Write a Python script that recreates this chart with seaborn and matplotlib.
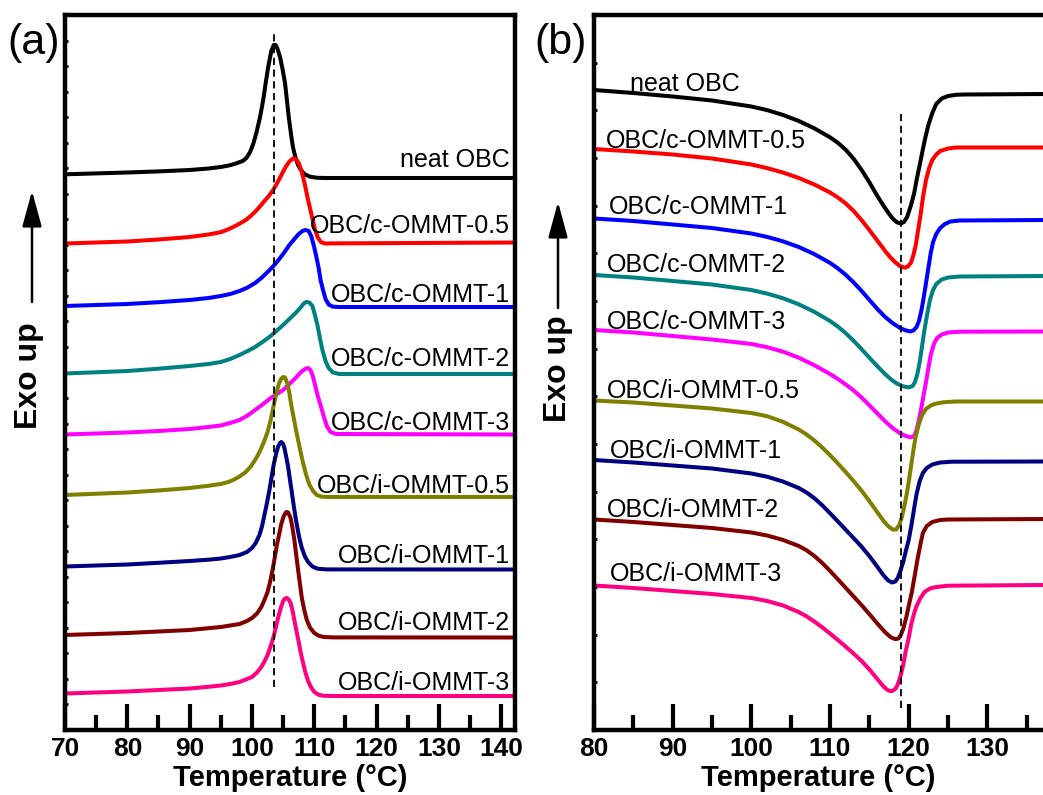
import numpy as np
import pandas as pd
import matplotlib
matplotlib.use("Agg")
import matplotlib.pyplot as plt
from matplotlib.patches import FancyArrowPatch
from matplotlib.ticker import MultipleLocator
import seaborn as sns

# ---------------- data ----------------
samples = ["neat OBC", "OBC/c-OMMT-0.5", "OBC/c-OMMT-1", "OBC/c-OMMT-2", "OBC/c-OMMT-3",
           "OBC/i-OMMT-0.5", "OBC/i-OMMT-1", "OBC/i-OMMT-2", "OBC/i-OMMT-3"]
colors = ["#000000", "#FF0000", "#0000FF", "#008080", "#FF00FF",
          "#808000", "#000080", "#800000", "#FF0080"]

# (a) cooling scans: temperature (C) and vertically shifted heat flow (a.u.)
cool_T_neat = [70, 80, 85, 90, 93, 95, 96.5, 97.5, 98.5, 99.1, 99.7, 100.2, 100.7, 101.3, 101.8, 102.2, 102.6, 103.1, 103.5, 103.8, 104.1, 104.5, 104.9, 105.3, 105.9, 106.3, 106.6, 107, 107.4, 107.8, 108.4, 109.3, 110.5, 112, 142.5]
cool_neat = [555.7, 557.5, 558.6, 560, 561.5, 563, 564.8, 566.7, 569, 572, 578, 586, 597, 613, 630, 647, 663, 679, 685, 685, 681, 673, 661, 647, 613, 594, 582, 572, 565, 560.5, 556, 553.3, 552.2, 552, 552]
cool_T_c05 = [70, 80, 85, 90, 93, 95, 96, 97, 98, 99, 99.8, 100.7, 101.4, 102, 102.7, 103.4, 104, 104.6, 105, 105.5, 106, 106.6, 107.1, 107.5, 107.9, 108.2, 108.5, 109, 109.6, 110.1, 110.6, 111.1, 111.7, 112.5, 142.5]
cool_c05 = [486.5, 488.5, 490.5, 493, 495.5, 497.8, 500.2, 503, 506.3, 510, 514, 519.5, 524.5, 529, 534, 540, 546.5, 553.5, 558.5, 564, 568.5, 571.7, 570.5, 567, 560, 553, 545, 530, 514, 500.5, 492, 487.8, 486.5, 486.6, 487.5]
cool_T_c1 = [70, 80, 85, 90, 93, 95, 96.5, 98, 99.3, 100.5, 101.5, 102.5, 103.3, 104, 105, 106, 106.8, 107.5, 108.1, 108.6, 109.1, 109.5, 109.9, 110.3, 110.7, 111, 111.4, 111.8, 112.3, 113, 114, 142.5]
cool_c1 = [424, 426, 427.8, 430, 432, 434, 436, 439, 442.5, 447, 452, 458, 463, 468, 476, 485, 491, 496, 499, 500, 499, 494, 485, 474, 462, 450, 440, 431, 425.5, 423.3, 423, 423]
cool_T_c2 = [70, 80, 85, 90, 93, 95, 96.5, 98, 99.3, 100.5, 101.8, 103, 104, 105, 106, 107, 107.8, 108.3, 108.7, 109.2, 109.7, 110.1, 110.5, 110.9, 111.3, 111.8, 112.3, 113, 114, 142.5]
cool_c2 = [356.5, 359, 361.3, 364, 366, 368, 371, 375, 379, 383, 388.5, 394, 399.5, 405, 411, 417, 422.5, 426.5, 428, 427.5, 424, 415, 405, 392, 380, 369, 362, 357.5, 356, 356]
cool_T_c3 = [70, 80, 85, 90, 93, 95, 96.5, 98, 99.3, 100.5, 101.8, 103, 104, 105, 106, 107, 107.8, 108.5, 109, 109.4, 109.8, 110.2, 110.6, 111, 111.5, 112, 112.6, 113.5, 142.5]
cool_c3 = [295.5, 297.5, 299, 301, 303, 304.5, 307, 310, 314.5, 320, 326, 332, 336, 340, 346, 352, 357.5, 361, 362, 360, 353, 343, 333, 325, 314, 304, 298, 296, 295.5]
cool_T_i05 = [70, 80, 85, 90, 93, 95, 96.2, 97, 98, 99, 99.8, 100.5, 101, 101.5, 102, 102.5, 103, 103.5, 103.9, 104.3, 104.7, 105, 105.3, 105.7, 106, 106.3, 106.7, 107, 107.4, 107.8, 108.2, 108.7, 109.2, 109.8, 110.4, 111.2, 112.5, 142.5]
cool_i05 = [235, 237.5, 239.5, 242, 244.2, 246, 248, 250, 253.5, 258, 263.5, 270, 275.5, 282, 289.5, 298, 310, 325, 336.5, 346, 351.5, 353, 352.5, 346, 337, 325, 312, 302, 290, 278, 267, 255, 245.5, 239, 235, 233.3, 233, 233]
cool_T_i1 = [70, 80, 85, 90, 93, 95, 96.5, 98, 99.2, 100, 100.6, 101.2, 101.6, 102, 102.4, 102.8, 103.2, 103.5, 103.9, 104.2, 104.5, 104.7, 105, 105.2, 105.5, 105.8, 106.1, 106.5, 106.8, 107.2, 107.6, 108, 108.5, 109, 109.7, 110.5, 112, 142.5]
cool_i1 = [163.5, 165.5, 167.2, 169, 170.3, 171.5, 173, 175, 178, 182, 187, 195, 203.5, 215, 227, 240, 255, 266, 277, 283.5, 287, 288, 286, 282, 273, 263, 250, 233, 220, 205, 192, 182, 173.5, 168, 163.5, 161.3, 160.6, 160.5]
cool_T_i2 = [70, 80, 85, 90, 93, 95, 96.5, 98, 99.2, 100, 100.8, 101.5, 102, 102.5, 102.9, 103.3, 103.7, 104, 104.4, 104.7, 105.1, 105.5, 105.8, 106.2, 106.5, 106.8, 107.1, 107.4, 107.7, 108, 108.4, 108.8, 109.3, 110, 110.7, 111.5, 113, 142.5]
cool_i2 = [95, 97, 98.5, 100, 101.8, 103, 104.5, 106, 109, 112, 116.5, 123, 130, 138, 148, 160, 174, 185, 197, 206, 214, 218, 217.5, 212, 202, 190, 175, 160, 146, 132, 119.5, 110, 102.5, 97, 94.3, 93, 92.6, 92.5]
cool_T_i3 = [70, 80, 85, 90, 93, 95, 96.5, 98, 99.2, 100, 100.8, 101.5, 102, 102.5, 103, 103.5, 103.9, 104.3, 104.7, 105, 105.3, 105.6, 105.9, 106.2, 106.5, 106.8, 107.1, 107.5, 107.8, 108.2, 108.6, 109, 109.5, 110, 110.7, 111.5, 113, 142.5]
cool_i3 = [36.5, 38.5, 40, 41.5, 43.2, 44.5, 46, 48, 51, 53, 57.5, 63, 68.5, 75, 84, 94, 104.5, 115, 123.5, 129, 131.5, 132, 130.5, 127, 119.5, 110, 100, 88, 78, 67, 57, 49, 42.5, 38, 35.2, 34.2, 34, 34]

# (b) heating scans
heat_T_neat = [80, 85, 90, 95, 100, 102, 104, 106, 108, 110, 111, 112, 113, 114, 115, 116, 116.8, 117.5, 118, 118.5, 119, 119.4, 119.8, 120.3, 120.7, 121, 121.4, 121.7, 122.1, 122.5, 123, 123.5, 124.2, 125, 126, 127, 137.5]
heat_neat = [640, 637, 633.5, 629.5, 623.5, 619.9, 615.1, 609.1, 601.7, 592.7, 587.2, 580.2, 571.2, 560.2, 547.7, 534.2, 524.2, 516.2, 511.2, 507.7, 506.5, 508, 513, 525, 537, 550, 565, 577, 592, 605, 617, 626, 631.5, 634, 635.2, 635.5, 636]
heat_T_c05 = [80, 85, 90, 95, 100, 102, 104, 106, 108, 110, 111, 112, 113, 114, 115, 116, 117, 117.7, 118.3, 118.9, 119.5, 119.9, 120.3, 120.6, 120.9, 121.2, 121.5, 121.8, 122.2, 122.6, 123, 123.5, 124, 125, 126, 137.5]
heat_c05 = [581, 578.5, 575.5, 571.5, 565.5, 561.9, 557.5, 552.1, 545.5, 537.5, 532.5, 526.5, 519, 510, 500, 489.5, 479, 472.4, 467.6, 464, 462.3, 463.5, 467.5, 475, 485, 500, 515, 532, 550, 562, 570, 575.5, 579, 581.5, 582.5, 582.5]
heat_T_c1 = [80, 85, 90, 95, 100, 102, 104, 106, 108, 110, 111, 112, 113, 114, 115, 116, 117, 118, 119, 119.7, 120.2, 120.6, 121, 121.3, 121.6, 121.9, 122.2, 122.5, 122.8, 123.1, 123.5, 124, 124.6, 125.3, 126.5, 137.5]
heat_c1 = [511.5, 509, 505.5, 502, 496.5, 493.1, 488.7, 483.1, 475.9, 467.1, 461.6, 455.1, 447.6, 439.1, 430.1, 421.1, 413.1, 406.6, 401.6, 399.4, 398.6, 399.5, 403, 409, 419, 432, 447, 462, 477, 488, 496, 502, 506, 508.5, 509.5, 510]
heat_T_c2 = [80, 85, 90, 95, 100, 102, 104, 106, 108, 110, 111, 112, 113, 114, 115, 116, 117, 117.8, 118.5, 119.3, 120, 120.5, 120.8, 121.1, 121.4, 121.7, 122, 122.35, 122.7, 123.1, 123.5, 124.2, 125, 126.5, 137.5]
heat_c2 = [455, 452.5, 449, 445.5, 440, 436.4, 431.8, 425.8, 418.2, 409, 403.4, 396.8, 389.2, 380.9, 372.3, 363.9, 355.9, 350.3, 346.45, 343.65, 342.6, 344, 348, 356, 368, 384, 400, 416, 430, 440, 446, 450.5, 452.5, 453.5, 454]
heat_T_c3 = [80, 85, 90, 95, 100, 102, 104, 106, 108, 110, 111, 112, 113, 114, 115, 116, 117, 118, 119, 119.7, 120.3, 120.7, 121, 121.3, 121.6, 121.9, 122.2, 122.5, 122.8, 123.2, 123.6, 124.2, 125, 126.5, 137.5]
heat_c3 = [400, 397.5, 394, 390.5, 386, 382.8, 378.4, 372.4, 364.8, 356, 351, 345.5, 339.5, 332.5, 324.7, 316.7, 308.7, 301.7, 296.2, 293.75, 292.7, 294, 300, 310, 322, 335, 348, 362, 375, 386, 392, 395.5, 397.5, 398.3, 398.5]
heat_T_i05 = [80, 85, 90, 95, 100, 102, 104, 106, 107, 108, 109, 110, 111, 112, 113, 114, 115, 116, 116.8, 117.4, 118, 118.4, 118.8, 119.1, 119.4, 119.7, 120, 120.3, 120.6, 120.9, 121.3, 121.7, 122.2, 122.8, 123.5, 124.5, 126, 137.5]
heat_i05 = [329.5, 327.5, 324.5, 321.5, 317, 313.8, 308.2, 300.6, 295.6, 289.6, 282.6, 274.8, 266.5, 257.9, 248.9, 239.4, 228.9, 217.9, 209.1, 203.7, 200.4, 200.5, 205, 212, 222, 234, 248, 264, 280, 294, 306, 315, 321, 324.5, 326.5, 327.8, 328.5, 328.5]
heat_T_i1 = [80, 85, 90, 95, 100, 102, 104, 106, 107, 108, 109, 110, 111, 112, 113, 114, 115, 116, 116.8, 117.4, 117.9, 118.3, 118.6, 118.9, 119.3, 119.6, 120, 120.35, 120.7, 121, 121.4, 121.8, 122.3, 123, 124, 125.5, 137.5]
heat_i1 = [270, 267.5, 264.5, 261.5, 256.5, 253.3, 248.5, 242.1, 237.6, 231.8, 224.8, 216.8, 208.5, 200.2, 191.9, 183.4, 173.9, 163.4, 154.6, 149.5, 147.5, 148.5, 152, 158, 168, 178, 190, 205, 222, 236, 249, 257, 262, 265.5, 267.5, 268.3, 268.5]
heat_T_i2 = [80, 85, 90, 95, 100, 102, 104, 106, 107, 108, 109, 110, 111, 112, 113, 114, 115, 116, 117, 117.7, 118.3, 118.7, 119, 119.3, 119.7, 120, 120.4, 120.8, 121.1, 121.5, 121.8, 122.3, 123, 124, 125, 137.5]
heat_i2 = [210.5, 208, 205, 202, 197.5, 194.5, 190.1, 184.1, 179.8, 174.1, 167.1, 159.1, 150.7, 142.1, 133.5, 124.9, 115.9, 106.6, 97.8, 92.9, 90.8, 91.5, 95, 101, 113, 124, 138, 156, 170, 186, 197, 204, 208, 210, 210.5, 211]
heat_T_i3 = [80, 85, 90, 95, 100, 102, 104, 106, 107, 108, 109, 110, 111, 112, 113, 114, 115, 116, 116.8, 117.3, 117.7, 118, 118.4, 118.7, 119, 119.3, 119.6, 120, 120.3, 120.7, 121, 121.5, 122, 122.7, 123.5, 125, 137.5]
heat_i3 = [144.5, 142, 139, 136, 132, 129, 124.6, 118, 113.7, 108.5, 102.7, 96.5, 90, 83.3, 76.4, 69.1, 60.6, 51.1, 43.5, 40, 38.8, 39.3, 42, 47.5, 55, 65, 78, 92, 105, 117, 124, 132, 138, 141.5, 143, 144.3, 145]

# peak reference lines (C)
ref_cool = 103.5
ref_heat = 119.0

# label anchor heights (a.u.) beside each curve
label_y_a = [563, 496.7, 428.3, 364.3, 300, 236.7, 166.7, 100, 40]
label_y_b = [639.3, 582.3, 515.7, 457.7, 401, 331.7, 272.3, 212.7, 149.3]

cool_T = [cool_T_neat, cool_T_c05, cool_T_c1, cool_T_c2, cool_T_c3, cool_T_i05, cool_T_i1, cool_T_i2, cool_T_i3]
cool_Y = [cool_neat, cool_c05, cool_c1, cool_c2, cool_c3, cool_i05, cool_i1, cool_i2, cool_i3]
heat_T = [heat_T_neat, heat_T_c05, heat_T_c1, heat_T_c2, heat_T_c3, heat_T_i05, heat_T_i1, heat_T_i2, heat_T_i3]
heat_Y = [heat_neat, heat_c05, heat_c1, heat_c2, heat_c3, heat_i05, heat_i1, heat_i2, heat_i3]


def long_df(Ts, Ys):
    rows = []
    for s, t, y in zip(samples, Ts, Ys):
        for a, b in zip(t, y):
            rows.append({"sample": s, "T": a, "hf": b})
    return pd.DataFrame(rows)


df_a = long_df(cool_T, cool_Y)
df_b = long_df(heat_T, heat_Y)

# ---------------- figure ----------------
plt.rcParams["font.family"] = ["Liberation Sans", "DejaVu Sans"]
W, H = 1043, 795
fig = plt.figure(figsize=(W / 100, H / 100), dpi=100)

ax_a = fig.add_axes([65 / W, 65 / H, 450 / W, 715 / H])
ax_b = fig.add_axes([594 / W, 65 / H, 449 / W, 715 / H])

LW_SPINE = 3.2
for ax, df, xlim, nyt in [(ax_a, df_a, (70, 142.2), 28), (ax_b, df_b, (80, 137.07), 15)]:
    sns.lineplot(data=df, x="T", y="hf", hue="sample", hue_order=samples, palette=colors,
                 estimator=None, sort=False, legend=False, lw=2.9, ax=ax)
    for ln in ax.get_lines():
        ln.set_solid_joinstyle("round")
        ln.set_solid_capstyle("butt")
    ax.set_xlim(*xlim)
    ax.set_ylim(0, 715)
    ax.set_ylabel("")
    ax.set_xticks(np.arange(xlim[0], xlim[1] + 0.01, 10))
    ax.xaxis.set_minor_locator(MultipleLocator(5))
    ax.set_yticks(np.arange(0, 715.1, 715 / nyt))
    ax.set_yticklabels([])
    ax.tick_params(axis="x", which="major", direction="in", length=19, width=3, labelsize=19, pad=5)
    ax.tick_params(axis="x", which="minor", direction="in", length=11, width=3)
    ax.tick_params(axis="y", which="major", direction="in", length=2.5, width=2)
    plt.setp(ax.get_xticklabels(), fontweight="bold")
    ax.set_xlabel("Temperature (°C)", fontsize=21, fontweight="bold", labelpad=2)
    for sp in ax.spines.values():
        sp.set_linewidth(LW_SPINE)

ax_b.spines["right"].set_visible(False)

# reference dashed lines
ax_a.axvline(ref_cool, ymin=0.06, ymax=0.979, color="k", lw=1.3, ls=(0, (4, 2.5)))
ax_b.axvline(ref_heat, ymin=0.031, ymax=0.863, color="k", lw=1.3, ls=(0, (4, 2.5)))

# curve labels
for s, y in zip(samples, label_y_a):
    ax_a.text(141.4, y, s, ha="right", va="baseline", fontsize=18)
xb = [84.6, 81.5, 81.9, 81.65, 81.65, 81.65, 82.0, 81.65, 82.0]
for s, y, x in zip(samples, label_y_b, xb):
    ax_b.text(x, y, s, ha="left", va="baseline", fontsize=18)

# panel tags
fig.text(7 / W, 1 - 54 / H, "(a)", fontsize=31, va="baseline", ha="left")
fig.text(534 / W, 1 - 54 / H, "(b)", fontsize=31, va="baseline", ha="left")

# Exo up labels and arrows
fig.text(29 / W, 1 - 376 / H, "Exo up", rotation=90, fontsize=23, fontweight="bold", ha="center", va="center")
fig.text(558 / W, 1 - 369 / H, "Exo up", rotation=90, fontsize=23, fontweight="bold", ha="center", va="center")
for (x, y0, y1) in [(32, 302, 191), (558, 308, 202)]:
    fig.add_artist(FancyArrowPatch(
        (x / W, 1 - y0 / H), (x / W, 1 - y1 / H), transform=fig.transFigure,
        arrowstyle="-|>,head_length=2.2,head_width=0.6", mutation_scale=10,
        lw=1.8, color="k", shrinkA=0, shrinkB=0))

fig.savefig("out.png", dpi=100)
